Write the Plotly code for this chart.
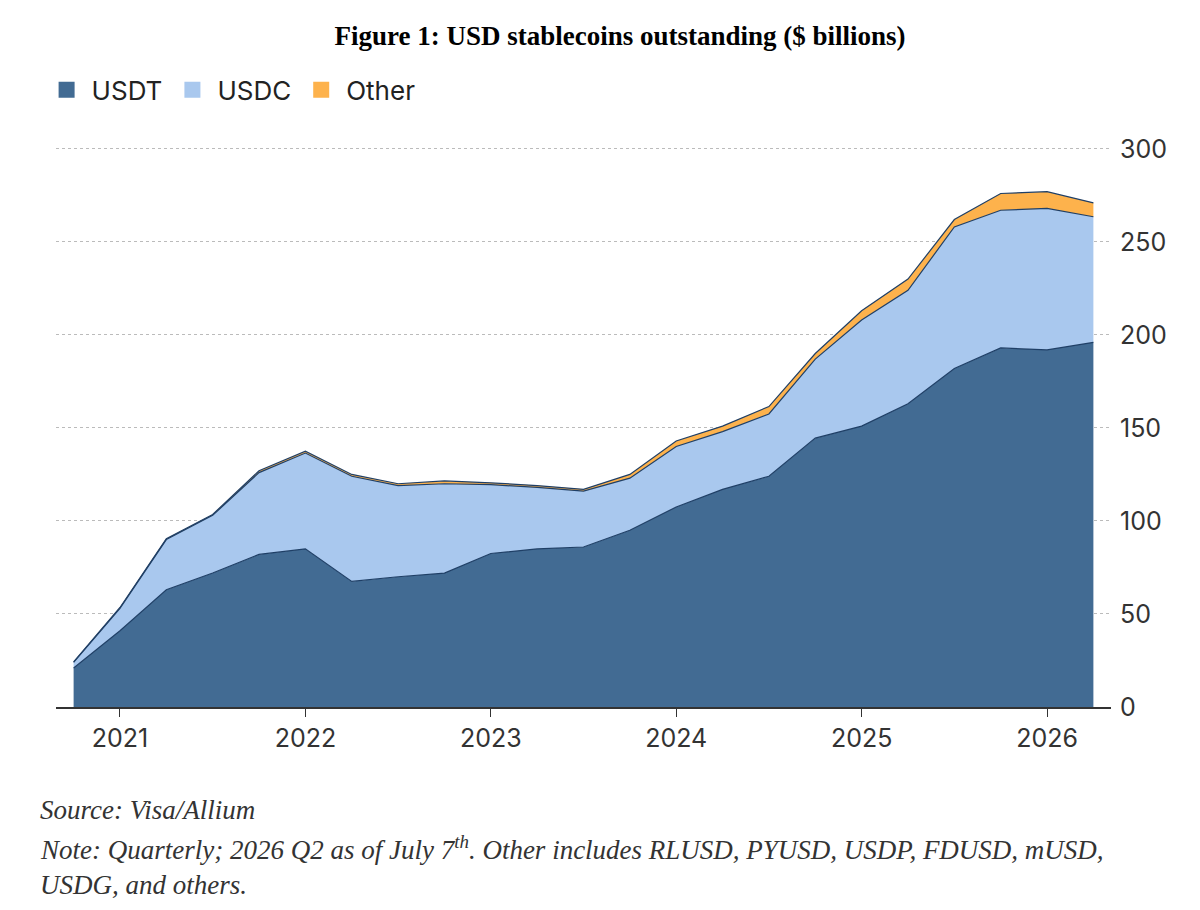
import plotly.graph_objects as go

quarters = [2020.75 + 0.25 * i for i in range(23)]
usdt = [21, 41, 63, 72, 82, 85, 67.5, 70, 72, 82.5, 85, 86, 95, 107.5, 117, 124, 144.5, 151, 163, 182, 193, 192, 196]
usdc = [3, 12, 27, 31, 44, 51.5, 56.5, 49, 48, 37, 33, 30, 28, 32.5, 31, 33.5, 42.5, 57, 61, 76, 74, 76, 67.5]
other = [0.3, 0.5, 0.5, 0.5, 1, 1, 1, 1, 1.5, 1, 1, 1, 2, 3, 3, 4, 3, 5, 6, 4, 9, 9, 7.5]
year_ticks = [2021, 2022, 2023, 2024, 2025, 2026]
y_ticks = [0, 50, 100, 150, 200, 250, 300]

series = [("USDT", usdt, "#426b93"), ("USDC", usdc, "#a9c8ee"), ("Other", other, "#fdb24c")]
fig = go.Figure()
for name, vals, col in series:
    fig.add_trace(go.Scatter(x=quarters, y=vals, name=name, stackgroup="s", mode="lines", showlegend=False,
                             line=dict(color="#1f3f66", width=1.2), fillcolor=col))
for name, vals, col in series:
    fig.add_trace(go.Scatter(x=[None], y=[None], name=name, mode="markers",
                             marker=dict(symbol="square", size=27, color=col)))

fig.update_layout(
    width=1200, height=910, plot_bgcolor="white", paper_bgcolor="white",
    margin=dict(l=48, r=97, t=139, b=211, autoexpand=False),
    title=dict(text="<b>Figure 1: USD stablecoins outstanding ($ billions)</b>", x=0.51, xanchor="center",
               y=0.970, yanchor="middle", font=dict(family="Liberation Serif", size=27, color="black")),
    legend=dict(orientation="h", xref="container", yref="container", x=0.028, y=0.91, xanchor="left",
                yanchor="middle", font=dict(family="Inter", size=26, color="#222"),
                traceorder="normal", itemwidth=40),
    font=dict(family="Inter", color="#333"),
)
fig.update_xaxes(range=[2020.655, 2026.345], tickvals=year_ticks, ticktext=[str(y) for y in year_ticks],
                 showgrid=False, showline=True, linecolor="#333", linewidth=1.5, ticks="outside",
                 ticklen=8, tickcolor="#333", tickfont=dict(size=25, color="#333"), zeroline=False)
fig.update_yaxes(range=[0, 301], side="right", tickvals=y_ticks, showgrid=True, gridcolor="#bbbbbb",
                 griddash="dot", gridwidth=1, tickfont=dict(size=25, color="#333"), zeroline=False,
                 ticklabelstandoff=8)

notes = [("Source: Visa/Allium", 810),
         ("Note: Quarterly; 2026 Q2 as of July 7<sup>th</sup>. Other includes RLUSD, PYUSD, USDP, FDUSD, mUSD,", 848),
         ("USDG, and others.", 885)]
for txt, py in notes:
    fig.add_annotation(text="<i>" + txt + "</i>", xref="paper", yref="paper", x=-0.017, xanchor="left",
                       y=(707 - py) / 560, yanchor="middle", showarrow=False,
                       font=dict(family="Liberation Serif", size=27, color="#333"))
fig.write_html("out.html")
